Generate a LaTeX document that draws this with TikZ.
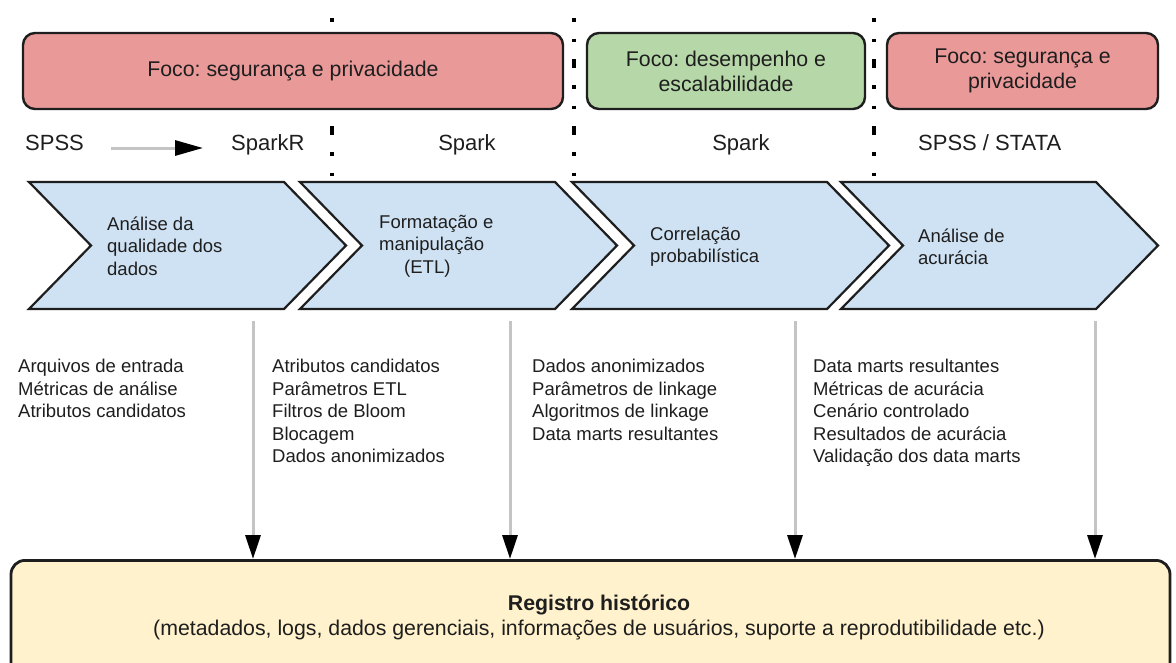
\documentclass[tikz,border=0pt]{standalone}
\usepackage{fontspec}
\setmainfont{Liberation Sans}
\usetikzlibrary{arrows.meta}
\frenchspacing
\definecolor{focored}{HTML}{EA9999}
\definecolor{focogreen}{HTML}{B6D7A8}
\definecolor{chevblue}{HTML}{CFE2F3}
\definecolor{logyellow}{HTML}{FFF2CC}
\definecolor{ink}{HTML}{1E1E1E}
\definecolor{arrowgray}{HTML}{C4C4C4}
\begin{document}
\begin{tikzpicture}[x=1pt,y=-1pt,
  focusbox/.style={draw=ink, line width=2.4pt, rounded corners=12pt,
    minimum height=76pt, inner sep=0pt, align=center, text=ink,
    font=\fontsize{21.3}{25}\selectfont},
  toollabel/.style={inner sep=0pt, text height=16pt, text depth=4pt, text=ink,
    font=\fontsize{22}{26}\selectfont},
  chevshape/.style={draw=ink, line width=2.2pt, fill=chevblue, line join=miter},
  chevtext/.style={inner sep=0pt, align=left, text=ink, anchor=west,
    font=\fontsize{18.5}{22.3}\selectfont},
  itemline/.style={inner sep=0pt, anchor=base west, text=ink,
    font=\fontsize{18.5}{22.5}\selectfont},
  separator/.style={line width=3.6pt, black,
    dash pattern=on 3.5pt off 17pt on 3.5pt off 17pt on 9pt off 17pt},
  toolarrow/.style={draw=arrowgray, line width=3pt,
    -{Triangle[length=28pt,width=15pt,color=black]}},
  logarrow/.style={draw=arrowgray, line width=3pt,
    -{Triangle[length=24pt,width=15pt,color=black]}},
  logbox/.style={draw=ink, line width=2.8pt, fill=logyellow, rounded corners=14pt,
    inner sep=0pt},
  logtext/.style={inner sep=0pt, anchor=base, text=ink,
    font=\fontsize{21.3}{25}\selectfont}
]
\clip (0,0) rectangle (1176,662);
\fill[white] (0,0) rectangle (1176,662);

% phase separators
\foreach \x in {332,574,874}
  \draw[separator] (\x,18) -- (\x,176);

% focus banners
\node[focusbox, fill=focored,   minimum width=540pt] (focus1) at (293,71)    {Foco: segurança e privacidade};
\node[focusbox, fill=focogreen, minimum width=278pt] (focus2) at (726,71)    {Foco: desempenho e\\escalabilidade};
\node[focusbox, fill=focored,   minimum width=271pt] (focus3) at (1022.5,71) {Foco: segurança e\\privacidade};

% tools used in each phase
\node[toollabel, anchor=base west] (spss)   at (25,150)  {SPSS};
\node[toollabel, anchor=base west] (sparkr) at (231,150) {SparkR};
\node[toollabel, anchor=base]      (spark1) at (467,150) {Spark};
\node[toollabel, anchor=base]      (spark2) at (741,150) {Spark};
\node[toollabel, anchor=base west] (stata)  at (918,150) {SPSS / STATA};
\draw[toolarrow, shorten <=27pt, shorten >=28pt]
  ([yshift=-4pt]spss.east) -- ([yshift=-4pt]sparkr.west);

% process chevrons
\foreach \L in {29,300,572,841}
  \draw[chevshape] (\L,182) -- (\L+255,182) -- (\L+317,245.5) -- (\L+255,309)
    -- (\L,309) -- (\L+62,245.5) -- cycle;

\node[chevtext] (step1) at (107,246) {Análise da\\qualidade dos\\dados};
\node[chevtext] (step2) at (379,246) {Formatação e\\manipulação\\\hspace*{25pt}(ETL)};
\node[chevtext] (step3) at (650,247) {Correlação\\probabilística};
\node[chevtext] (step4) at (918,247) {Análise de\\acurácia};

% artefacts of each phase
\foreach \t [count=\i] in {Arquivos de entrada,Métricas de análise,Atributos candidatos}
  \node[itemline] (inA\i) at (18,372.7+22.5*\i-22.5) {\t};
\foreach \t [count=\i] in {Atributos candidatos,Parâmetros ETL,Filtros de Bloom,Blocagem,Dados anonimizados}
  \node[itemline] (inB\i) at (272,372.7+22.5*\i-22.5) {\t};
\foreach \t [count=\i] in {Dados anonimizados,Parâmetros de linkage,Algoritmos de linkage,Data marts resultantes}
  \node[itemline] (inC\i) at (532,372.7+22.5*\i-22.5) {\t};
\foreach \t [count=\i] in {Data marts resultantes,Métricas de acurácia,Cenário controlado,Resultados de acurácia,Validação dos data marts}
  \node[itemline] (inD\i) at (813,372.7+22.5*\i-22.5) {\t};

% historical record
\node[logbox, minimum width=1159pt, minimum height=150pt, anchor=north] (log) at (590.5,559) {};
\node[logtext, font=\fontsize{21.3}{25}\selectfont\bfseries] (logtitle) at (599,610) {Registro histórico};
\node[logtext] (logsub) at (599,635)
  {(metadados, logs, dados gerenciais, informações de usuários, suporte a reprodutibilidade etc.)};

% every phase feeds the record
\foreach \x [count=\i] in {253,510,795,1095}
  \coordinate (feed\i) at (\x,321);
\foreach \i in {1,...,4}
  \draw[logarrow] (feed\i) -- (feed\i |- log.north);
\end{tikzpicture}
\end{document}
